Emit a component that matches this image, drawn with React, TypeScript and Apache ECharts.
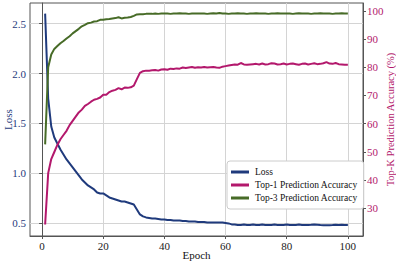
import React, { useEffect, useRef } from "react";
import * as echarts from "echarts";

const epochs: number[] = Array.from({ length: 100 }, (_, i) => i + 1);

const loss: number[] = [
  2.6, 1.75, 1.47, 1.36, 1.3, 1.24, 1.19, 1.14, 1.1, 1.06,
  1.02, 0.98, 0.94, 0.91, 0.88, 0.86, 0.84, 0.81, 0.8, 0.8,
  0.78, 0.76, 0.75, 0.74, 0.73, 0.72, 0.72, 0.71, 0.7, 0.69,
  0.64, 0.59, 0.57, 0.56, 0.555, 0.55, 0.55, 0.545, 0.54, 0.54,
  0.535, 0.535, 0.53, 0.53, 0.53, 0.525, 0.525, 0.52, 0.52, 0.52,
  0.515, 0.515, 0.515, 0.51, 0.51, 0.51, 0.51, 0.51, 0.51, 0.505,
  0.5, 0.49, 0.49, 0.485, 0.485, 0.49, 0.485, 0.485, 0.49, 0.485,
  0.485, 0.49, 0.485, 0.485, 0.485, 0.488, 0.485, 0.485, 0.485, 0.488,
  0.485, 0.484, 0.485, 0.488, 0.484, 0.483, 0.485, 0.486, 0.49, 0.487,
  0.484, 0.482, 0.481, 0.481, 0.483, 0.486, 0.485, 0.486, 0.485, 0.485,
];

const top1: number[] = [
  24.3, 42.5, 47.5, 50, 52.5, 54.5, 56, 57.5, 59.5, 61,
  62.5, 64, 65, 66.3, 67, 67.8, 68.5, 68.8, 69.3, 70.3,
  70.3, 71.2, 71.7, 72, 72.6, 72.2, 72.8, 72.7, 72.9, 73.5,
  75.8, 78, 78.6, 78.8, 78.8, 78.9, 79, 78.8, 79.2, 79.3,
  79.1, 79.5, 79.4, 79.6, 79.5, 79.9, 79.7, 79.9, 80.1, 79.8,
  80, 79.9, 80.1, 79.9, 80, 80.1, 79.9, 79.8, 80.2, 80.4,
  80.6, 80.8, 81, 80.9, 81.5, 81, 80.9, 81, 81.1, 81.2,
  81, 81.3, 81, 81.1, 81.4, 81.3, 81, 81.1, 81.3, 81,
  81.2, 81.3, 81.1, 80.9, 81.2, 81.3, 81, 81.2, 81.4, 81.1,
  81.2, 81.4, 81.8, 81.3, 81.2, 81.5, 81.1, 81, 80.9, 80.9,
];

const top3: number[] = [
  52.7, 80, 84.5, 86.5, 87.5, 88.5, 89.3, 90.2, 91, 92,
  92.8, 93.6, 94.5, 95, 95.6, 95.8, 96.2, 96.3, 96.8, 96.8,
  97, 97.1, 97.3, 97.4, 97.7, 97.3, 97.5, 97.6, 97.8, 98.2,
  98.7, 98.8, 98.8, 98.9, 98.9, 98.9, 99, 98.9, 99, 99,
  99, 98.9, 99, 99, 99.1, 99, 99, 98.9, 99, 99,
  99, 99, 99, 98.9, 99, 99.1, 99, 99.2, 99, 99,
  98.9, 99, 99, 99.1, 99, 99, 98.9, 99, 99, 99.1,
  99, 99, 99, 98.9, 99, 99, 99.1, 99, 99, 99,
  99, 98.9, 99, 99.1, 99, 99, 99, 98.9, 99, 99,
  99.1, 99, 99, 99, 98.9, 99, 99, 99.1, 99, 99,
];

const xTicks: number[] = [0, 20, 40, 60, 80, 100];
const lossTicks: number[] = [0.5, 1.0, 1.5, 2.0, 2.5];
const accTicks: number[] = [30, 40, 50, 60, 70, 80, 90, 100];

const NAVY = "#1f3a7c";
const MAGENTA = "#b3186c";
const GREEN = "#476b27";
const FONT = "'Liberation Serif', 'Times New Roman', Times, serif";

export default function App() {
  const ref = useRef<HTMLDivElement>(null);
  useEffect(() => {
    if (!ref.current) return;
    const chart = echarts.init(ref.current, undefined, { renderer: "svg" });
    const lossData = epochs.map((e, i) => [e, loss[i]]);
    const t1Data = epochs.map((e, i) => [e, top1[i]]);
    const t3Data = epochs.map((e, i) => [e, top3[i]]);
    chart.setOption({
      animation: false,
      backgroundColor: "#ffffff",
      textStyle: { fontFamily: FONT },
      grid: {
        left: 30,
        top: 3,
        right: 33,
        bottom: 27,
        containLabel: false,
        outerBoundsMode: "none",
        show: true,
        borderColor: "#555555",
        borderWidth: 1,
        backgroundColor: "transparent",
      },
      legend: {
        orient: "vertical",
        left: 227,
        top: 161,
        itemWidth: 18,
        itemHeight: 3,
        itemGap: 1,
        icon: "rect",
        padding: [5, 6, 5, 4],
        backgroundColor: "#ffffff",
        borderColor: "#cccccc",
        borderWidth: 1,
        borderRadius: 3,
        textStyle: { fontFamily: FONT, fontSize: 9.5, color: "#111", lineHeight: 12, padding: [0, 0, 0, 1] },
        data: ["Loss", "Top-1 Prediction Accuracy", "Top-3 Prediction Accuracy"],
      },
      xAxis: {
        type: "value",
        min: -3.95,
        max: 104.95,
        name: "Epoch",
        nameLocation: "middle",
        nameGap: 13,
        nameMoveOverlap: false,
        nameTextStyle: { fontFamily: FONT, fontSize: 11, color: "#111" },
        axisLine: { show: true, lineStyle: { color: "#555555" } },
        axisTick: { show: true, length: 3, customValues: xTicks, lineStyle: { color: "#555555" } },
        axisLabel: { customValues: xTicks, margin: 4, fontFamily: FONT, fontSize: 11, color: "#222" },
        splitLine: { show: true, lineStyle: { color: "#d4d4d4", width: 1 } },
      },
      yAxis: [
        {
          type: "value",
          min: 0.374,
          max: 2.706,
          name: "Loss",
          nameLocation: "middle",
          nameGap: 17,
          nameRotate: 90,
          nameMoveOverlap: false,
          nameTextStyle: { fontFamily: FONT, fontSize: 11, color: NAVY },
          axisLine: { show: true, lineStyle: { color: "#555555" } },
          axisTick: { show: true, length: 3, customValues: lossTicks, lineStyle: { color: "#555555" } },
          axisLabel: {
            customValues: lossTicks,
            margin: 4,
            fontFamily: FONT,
            fontSize: 11,
            color: NAVY,
            formatter: (v: number) => v.toFixed(1),
          },
          splitLine: { show: true, lineStyle: { color: "#d4d4d4", width: 1 } },
        },
        {
          type: "value",
          position: "right",
          min: 20.25,
          max: 102.75,
          name: "Top-K Prediction Accuracy (%)",
          nameLocation: "middle",
          nameGap: 22,
          nameRotate: 90,
          nameMoveOverlap: false,
          nameTextStyle: { fontFamily: FONT, fontSize: 10.5, color: MAGENTA },
          axisLine: { show: true, lineStyle: { color: "#555555" } },
          axisTick: { show: true, length: 3, customValues: accTicks, lineStyle: { color: "#555555" } },
          axisLabel: { customValues: accTicks, margin: 4, fontFamily: FONT, fontSize: 11, color: MAGENTA },
          splitLine: { show: false },
        },
      ],
      series: [
        {
          name: "Loss",
          type: "line",
          yAxisIndex: 0,
          data: lossData,
          showSymbol: false,
          symbol: "none",
          lineStyle: { color: NAVY, width: 2 },
          itemStyle: { color: NAVY },
          z: 3,
        },
        {
          name: "Top-1 Prediction Accuracy",
          type: "line",
          yAxisIndex: 1,
          data: t1Data,
          showSymbol: false,
          symbol: "none",
          lineStyle: { color: MAGENTA, width: 2 },
          itemStyle: { color: MAGENTA },
          z: 4,
        },
        {
          name: "Top-3 Prediction Accuracy",
          type: "line",
          yAxisIndex: 1,
          data: t3Data,
          showSymbol: false,
          symbol: "none",
          lineStyle: { color: GREEN, width: 2 },
          itemStyle: { color: GREEN },
          z: 5,
        },
      ],
    });
    return () => chart.dispose();
  }, []);
  return <div ref={ref} style={{ width: 396, height: 263, position: "absolute", left: 0, top: 0 }} />;
}
